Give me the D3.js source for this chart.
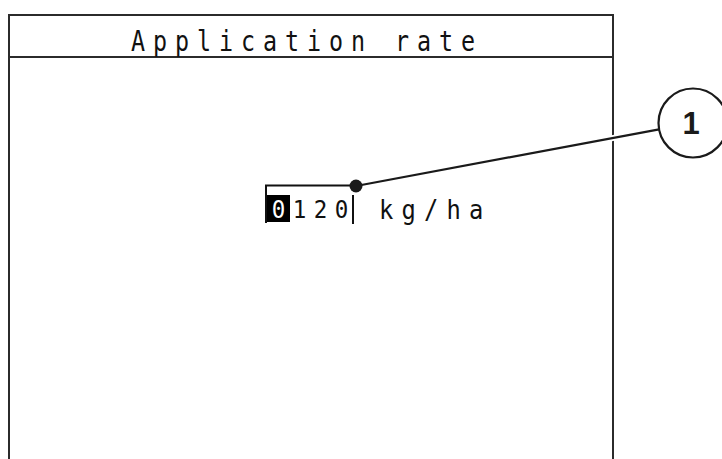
<!DOCTYPE html>
<html>
<head>
<meta charset="utf-8">
<script src="https://cdn.jsdelivr.net/npm/d3@7"></script>
<style>
  body { margin: 0; background: #fff; }
  svg { display: block; }
</style>
</head>
<body>
<div id="chart"></div>
<script>
// screen content
var titleText = "Application rate";
var digits = ["0", "1", "2", "0"];
var activeDigit = 0;          // highlighted (editable) digit
var unitText = "kg/ha";
var calloutLabels = ["1"];

var width = 722, height = 459;

var svg = d3.select("#chart")
            .append("svg")
            .attr("width", width)
            .attr("height", height);

// display frame
var frame = {left: 9, right: 613, top: 15, header: 57};
var ink = "#2b2b2b";

svg.append("path")
   .attr("d", "M" + frame.left + "," + (height + 5) + "V" + frame.top + "H" + frame.right + "V" + (height + 5))
   .attr("fill", "none")
   .attr("stroke", ink)
   .attr("stroke-width", 2);

svg.append("line")
   .attr("x1", frame.left).attr("x2", frame.right)
   .attr("y1", frame.header).attr("y2", frame.header)
   .attr("stroke", ink)
   .attr("stroke-width", 2);

// title - tall narrow display font (squeezed horizontally)
var sx = 0.82;
svg.append("text")
   .attr("transform", "scale(" + sx + ",1)")
   .attr("x", 131 / sx)
   .attr("y", 51)
   .attr("font-family", "DejaVu Sans Mono")
   .attr("font-size", 28.5)
   .attr("letter-spacing", (22 / sx - 28.5 * 0.602) + "px")
   .attr("fill", "#111")
   .text(titleText);

// digit positions via band scale
var x = d3.scaleBand()
          .domain(d3.range(digits.length))
          .range([267, 351]);

var field = svg.append("g");

// bracket of the input field
field.append("path")
     .attr("d", "M266,223V185.5H356")
     .attr("fill", "none")
     .attr("stroke", "#111")
     .attr("stroke-width", 2);

// highlighted digit background
field.append("rect")
     .attr("x", x(activeDigit))
     .attr("y", 195)
     .attr("width", x.bandwidth() + 2)
     .attr("height", 27)
     .attr("fill", "#000");

field.selectAll("text.digit")
     .data(digits)
     .enter().append("text")
     .attr("class", "digit")
     .attr("transform", function(d, i) {
        return "translate(" + (x(i) + x.bandwidth() / 2 + 1) + ",218) scale(0.9,1)";
     })
     .attr("text-anchor", "middle")
     .attr("font-family", "DejaVu Sans Mono")
     .attr("font-size", 25)
     .attr("fill", function(d, i) { return i === activeDigit ? "#fff" : "#111"; })
     .text(function(d) { return d; });

// cursor
field.append("line")
     .attr("x1", 353).attr("x2", 353)
     .attr("y1", 195).attr("y2", 224)
     .attr("stroke", "#111")
     .attr("stroke-width", 2);

// unit
var ux = 0.88;
svg.append("text")
   .attr("transform", "scale(" + ux + ",1)")
   .attr("x", 379 / ux)
   .attr("y", 219)
   .attr("font-family", "DejaVu Sans Mono")
   .attr("font-size", 27)
   .attr("letter-spacing", (22.5 / ux - 27 * 0.602) + "px")
   .attr("fill", "#111")
   .text(unitText);

// callout
var dot = {x: 356, y: 186};
var circ = {x: 693, y: 123, r: 34.5};
var ang = Math.atan2(circ.y - dot.y, circ.x - dot.x);
var endX = circ.x - circ.r * Math.cos(ang),
    endY = circ.y - circ.r * Math.sin(ang);

// white halo where the leader crosses the frame
svg.append("line")
   .attr("x1", dot.x).attr("y1", dot.y)
   .attr("x2", endX).attr("y2", endY)
   .attr("stroke", "#fff")
   .attr("stroke-width", 6);

svg.append("line")
   .attr("x1", dot.x).attr("y1", dot.y)
   .attr("x2", endX).attr("y2", endY)
   .attr("stroke", "#1a1a1a")
   .attr("stroke-width", 2.2);

svg.append("circle")
   .attr("cx", dot.x).attr("cy", dot.y)
   .attr("r", 6.5)
   .attr("fill", "#1a1a1a");

var callout = svg.selectAll("g.callout")
                 .data(calloutLabels)
                 .enter().append("g")
                 .attr("class", "callout");

callout.append("circle")
       .attr("cx", circ.x).attr("cy", circ.y)
       .attr("r", circ.r)
       .attr("fill", "#fff")
       .attr("stroke", "#1a1a1a")
       .attr("stroke-width", 2.2);

callout.append("text")
       .attr("x", circ.x - 2)
       .attr("y", circ.y + 11)
       .attr("text-anchor", "middle")
       .attr("font-family", "Liberation Sans, Arial, sans-serif")
       .attr("font-weight", "bold")
       .attr("font-size", 31)
       .attr("fill", "#1a1a1a")
       .text(function(d) { return d; });
</script>
</body>
</html>
